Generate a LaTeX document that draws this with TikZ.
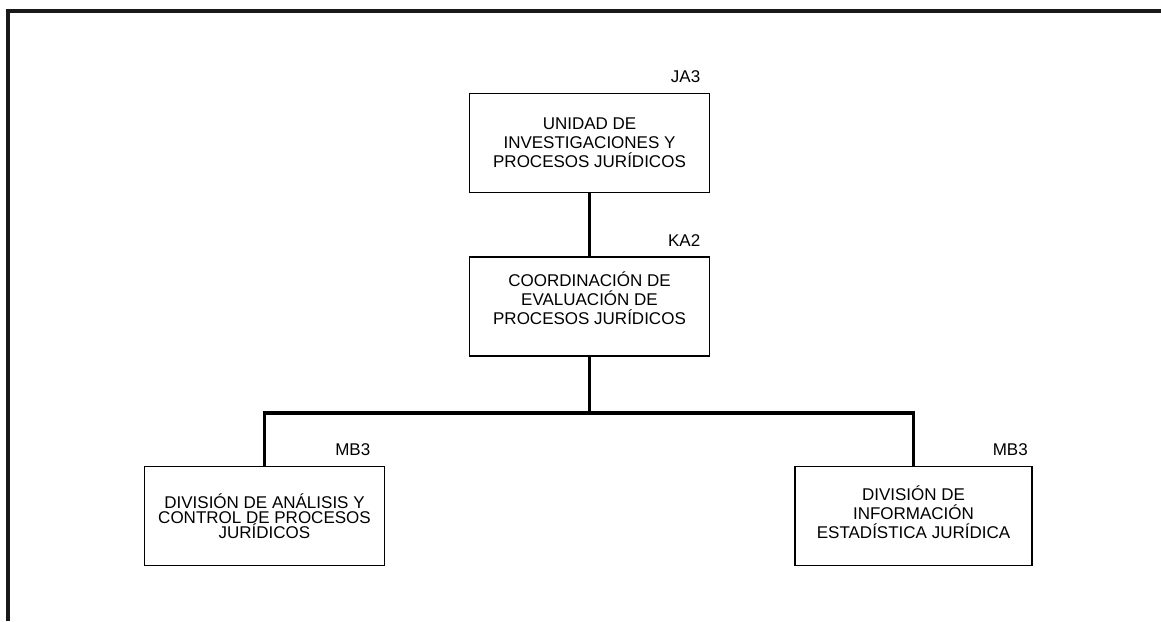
\documentclass[tikz,border=0pt]{standalone}
\usepackage{fontspec}
\setmainfont{Liberation Sans}
\usetikzlibrary{positioning}

\begin{document}
\begin{tikzpicture}[
      x=1pt, y=-1pt,
      node distance=63pt,
      unit/.style={rectangle, draw=black, line width=1.8pt, align=center,
                   inner sep=0pt, minimum width=240pt, minimum height=99pt,
                   font=\fontsize{17}{19}\selectfont},
      code/.style={anchor=south east, inner sep=0pt, xshift=-10pt, yshift=10pt,
                   font=\fontsize{17}{19}\selectfont},
      conn/.style={line width=3.2pt}
    ]
    \useasboundingbox (0,0) rectangle (1161,621);
    % outer frame (cut at right and bottom)
    \draw[line width=4pt, black!90] (7.5,621) -- (7.5,10.5) -- (1161,10.5);

    \node[unit, label={[code]north east:JA3}] (jur) at (589.5,143)
      {UNIDAD DE\\INVESTIGACIONES Y\\PROCESOS JURÍDICOS};
    \node[unit, below=of jur, text depth=18pt, label={[code]north east:KA2}] (eval)
      {COORDINACIÓN DE\\EVALUACIÓN DE\\PROCESOS JURÍDICOS};
    \node[unit, font=\fontsize{17}{15}\selectfont,
          label={[code, xshift=-5pt]north east:MB3}] (anal) at (264.5,516)
      {DIVISIÓN DE ANÁLISIS Y\\CONTROL DE PROCESOS\\JURÍDICOS};
    \node[unit, minimum width=237pt, text depth=8pt,
          label={[code, xshift=5pt]north east:MB3}] (info) at (913.5,516)
      {DIVISIÓN DE\\INFORMACIÓN\\ESTADÍSTICA JURÍDICA};

    \coordinate (bus) at (589.5,413);
    \draw[conn] (jur) -- (eval);
    \draw[conn] (eval) -- (bus);
    \draw[conn] (bus) -| (anal.north);
    \draw[conn] (bus) -| (info.north);
  \end{tikzpicture}
\end{document}
